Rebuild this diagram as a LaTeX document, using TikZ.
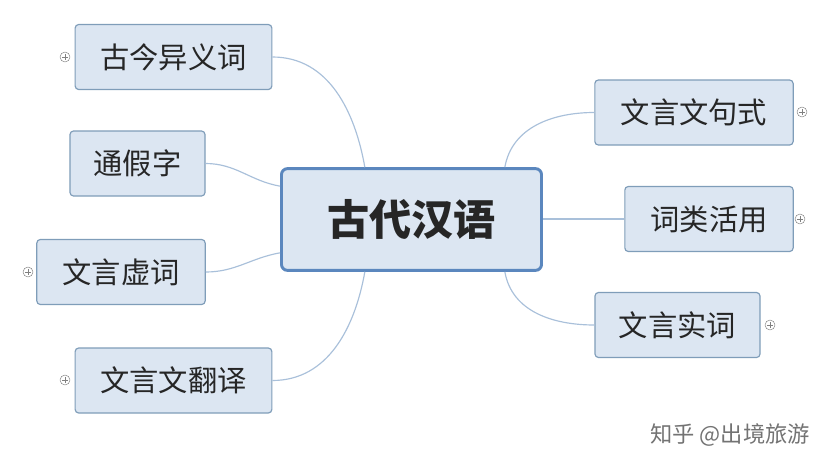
\documentclass[tikz,border=0pt]{standalone}
\usepackage{fontspec}
\newfontfamily\cjk{Noto Sans CJK SC}
\usepackage{tikz}

\definecolor{boxfill}{HTML}{DCE6F2}
\definecolor{boxline}{HTML}{7F9DB9}
\definecolor{mainline}{HTML}{5B87BE}
\definecolor{linkline}{HTML}{A9C0DA}

\begin{document}
\begin{tikzpicture}[x=0.03cm,y=-0.03cm,
            main node/.style={draw=mainline,line width=2.5pt,fill=boxfill,rounded corners=5pt,
                minimum width=7.8cm,minimum height=3.05cm,inner sep=0pt,
                font=\cjk\fontsize{36}{36}\selectfont\bfseries,text=black!85},
            sub node/.style={draw=boxline,line width=1pt,fill=boxfill,rounded corners=3pt,
                minimum height=1.95cm,inner sep=0pt,
                font=\cjk\fontsize{25}{25}\selectfont,text=black!85},
            plus node/.style={circle,draw=gray,fill=white,inner sep=0pt,minimum size=8.5pt,
                path picture={\draw[gray,line width=0.4pt] (-2.5pt,0)--(2.5pt,0) (0,-2.5pt)--(0,2.5pt);}},
            link/.style={draw=linkline,line width=1pt},
            ]
            \useasboundingbox (0,0) rectangle (837,469);

            \node[main node] (main) at (411.5,219.5) {古代汉语};

            \node[sub node,minimum width=5.9cm] (gujin) at (173.5,57) {古今异义词};
            \node[sub node,minimum width=4.05cm] (tongjia) at (137.5,163.5) {通假字};
            \node[sub node,minimum width=5.05cm] (xuci) at (121,272) {文言虚词};
            \node[sub node,minimum width=5.9cm] (fanyi) at (173.5,380.5) {文言文翻译};
            \node[sub node,minimum width=5.95cm] (jushi) at (694,112.5) {文言文句式};
            \node[sub node,minimum width=5.05cm] (huoyong) at (709,219) {词类活用};
            \node[sub node,minimum width=4.95cm] (shici) at (677.5,325) {文言实词};

            \node[plus node] (p1) at (65,57) {};
            \node[plus node] (p3) at (28,272) {};
            \node[plus node] (p4) at (65,380) {};
            \node[plus node] (p5) at (802,112) {};
            \node[plus node] (p6) at (800,219) {};
            \node[plus node] (p7) at (770,325) {};

            % links
            \draw[link] (gujin.east) to[out=0,in=100] ([xshift=-1.4cm]main.north);
            \draw[link] (tongjia.east) to[out=0,in=170] ([yshift=1cm]main.west);
            \draw[link] (xuci.east) to[out=0,in=190] ([yshift=-1cm]main.west);
            \draw[link] (fanyi.east) to[out=0,in=-100] ([xshift=-1.4cm]main.south);
            \draw[link] (jushi.west) to[out=180,in=80] ([xshift=2.8cm]main.north);
            \draw[link] (huoyong.west) -- (main.east |- huoyong.west);
            \draw[link] (shici.west) to[out=180,in=-80] ([xshift=2.8cm]main.south);

            \node[font=\cjk\fontsize{19}{19}\selectfont,text=black!55] (mark) at (730,435) {知乎 @出境旅游};
        \end{tikzpicture}
\end{document}
